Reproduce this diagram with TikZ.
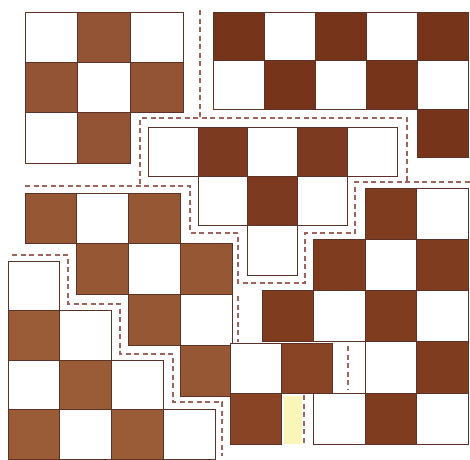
\documentclass[tikz,border=0pt]{standalone}
\usepackage{tikz}

\definecolor{brnA}{RGB}{146,84,52}
\definecolor{brnB}{RGB}{118,52,26}
\definecolor{brnC}{RGB}{124,58,32}
\definecolor{brnD}{RGB}{128,60,30}
\definecolor{brnE}{RGB}{150,88,52}
\definecolor{brnF}{RGB}{154,92,54}
\definecolor{brnG}{RGB}{136,68,36}
\definecolor{edgec}{RGB}{95,50,40}
\definecolor{cutc}{RGB}{160,100,95}
\definecolor{paper}{RGB}{250,246,185}

\begin{document}
\begin{tikzpicture}[
    x=1pt, y=-1pt,
    square/.style={draw=edgec, line width=0.6pt},
    cut/.style={draw=cutc, line width=1.3pt, dash pattern=on 5pt off 3.5pt}
  ]
  \useasboundingbox (0,0) rectangle (470,459);

  % Piece A (top left)
  \begin{scope}[shift={(25,12)}, x=52.7pt, y=-50.3pt]
    \foreach \c/\r/\f in {0/0/white, 1/0/brnA, 2/0/white,
                          0/1/brnA, 1/1/white, 2/1/brnA,
                          0/2/white, 1/2/brnA}
      \draw[square, fill=\f] (\c,\r) rectangle ++(1,1);
  \end{scope}

  % Piece B (top right)
  \begin{scope}[shift={(213,12)}, x=51pt, y=-48.5pt]
    \foreach \c/\r/\f in {0/0/brnB, 1/0/white, 2/0/brnB, 3/0/white, 4/0/brnB,
                          0/1/white, 1/1/brnB, 2/1/white, 3/1/brnB, 4/1/white,
                          4/2/brnB}
      \draw[square, fill=\f] (\c,\r) rectangle ++(1,1);
  \end{scope}

  % Piece C (middle)
  \begin{scope}[shift={(148,127)}, x=49.8pt, y=-49.3pt]
    \foreach \c/\r/\f in {0/0/white, 1/0/brnC, 2/0/white, 3/0/brnC, 4/0/white,
                          1/1/white, 2/1/brnC, 3/1/white,
                          2/2/white}
      \draw[square, fill=\f] (\c,\r) rectangle ++(1,1);
  \end{scope}

  % Piece E (left staircase)
  \begin{scope}[shift={(25,193)}, x=51.75pt, y=-50.75pt]
    \foreach \c/\r/\f in {0/0/brnE, 1/0/white, 2/0/brnE,
                          1/1/brnE, 2/1/white, 3/1/brnE,
                          2/2/brnE, 3/2/white,
                          3/3/brnE}
      \draw[square, fill=\f] (\c,\r) rectangle ++(1,1);
  \end{scope}

  % Piece F (bottom left)
  \begin{scope}[shift={(8,261)}, x=51.75pt, y=-49.5pt]
    \foreach \c/\r/\f in {0/0/white,
                          0/1/brnF, 1/1/white,
                          0/2/white, 1/2/brnF, 2/2/white,
                          0/3/brnF, 1/3/white, 2/3/brnF, 3/3/white}
      \draw[square, fill=\f] (\c,\r) rectangle ++(1,1);
  \end{scope}

  % Piece D (bottom right)
  \begin{scope}[shift={(262,188)}, x=51.5pt, y=-51.2pt]
    \foreach \c/\r/\f in {2/0/brnD, 3/0/white,
                          1/1/brnD, 2/1/white, 3/1/brnD,
                          0/2/brnD, 1/2/white, 2/2/brnD, 3/2/white,
                          2/3/white, 3/3/brnD,
                          1/4/white, 2/4/brnD, 3/4/white}
      \draw[square, fill=\f] (\c,\r) rectangle ++(1,1);
  \end{scope}

  % gap left by piece G
  \fill[paper] (284,396) rectangle (302,444);

  % Piece G (small L)
  \begin{scope}[shift={(230,343)}, x=51pt, y=-50.5pt]
    \foreach \c/\r/\f in {0/0/white, 1/0/brnG,
                          0/1/brnG}
      \draw[square, fill=\f] (\c,\r) rectangle ++(1,1);
  \end{scope}

  % cut lines
  \draw[cut] (200,10) -- (200,118);
  \draw[cut] (140,184) -- (140,118) -- (407,118) -- (407,182);
  \draw[cut] (25,186) -- (190,186) -- (190,233) -- (238,233) -- (238,283)
    -- (305,283) -- (305,233) -- (355,233) -- (355,182) -- (470,182);
  \draw[cut] (12,255) -- (68,255) -- (68,304) -- (120,304) -- (120,354)
    -- (173,354) -- (173,402) -- (222,402) -- (222,456);
  \draw[cut] (238,296) -- (238,342);
  \draw[cut] (348,346) -- (348,390);
  \draw[cut] (304,395) -- (304,444);
\end{tikzpicture}
\end{document}
